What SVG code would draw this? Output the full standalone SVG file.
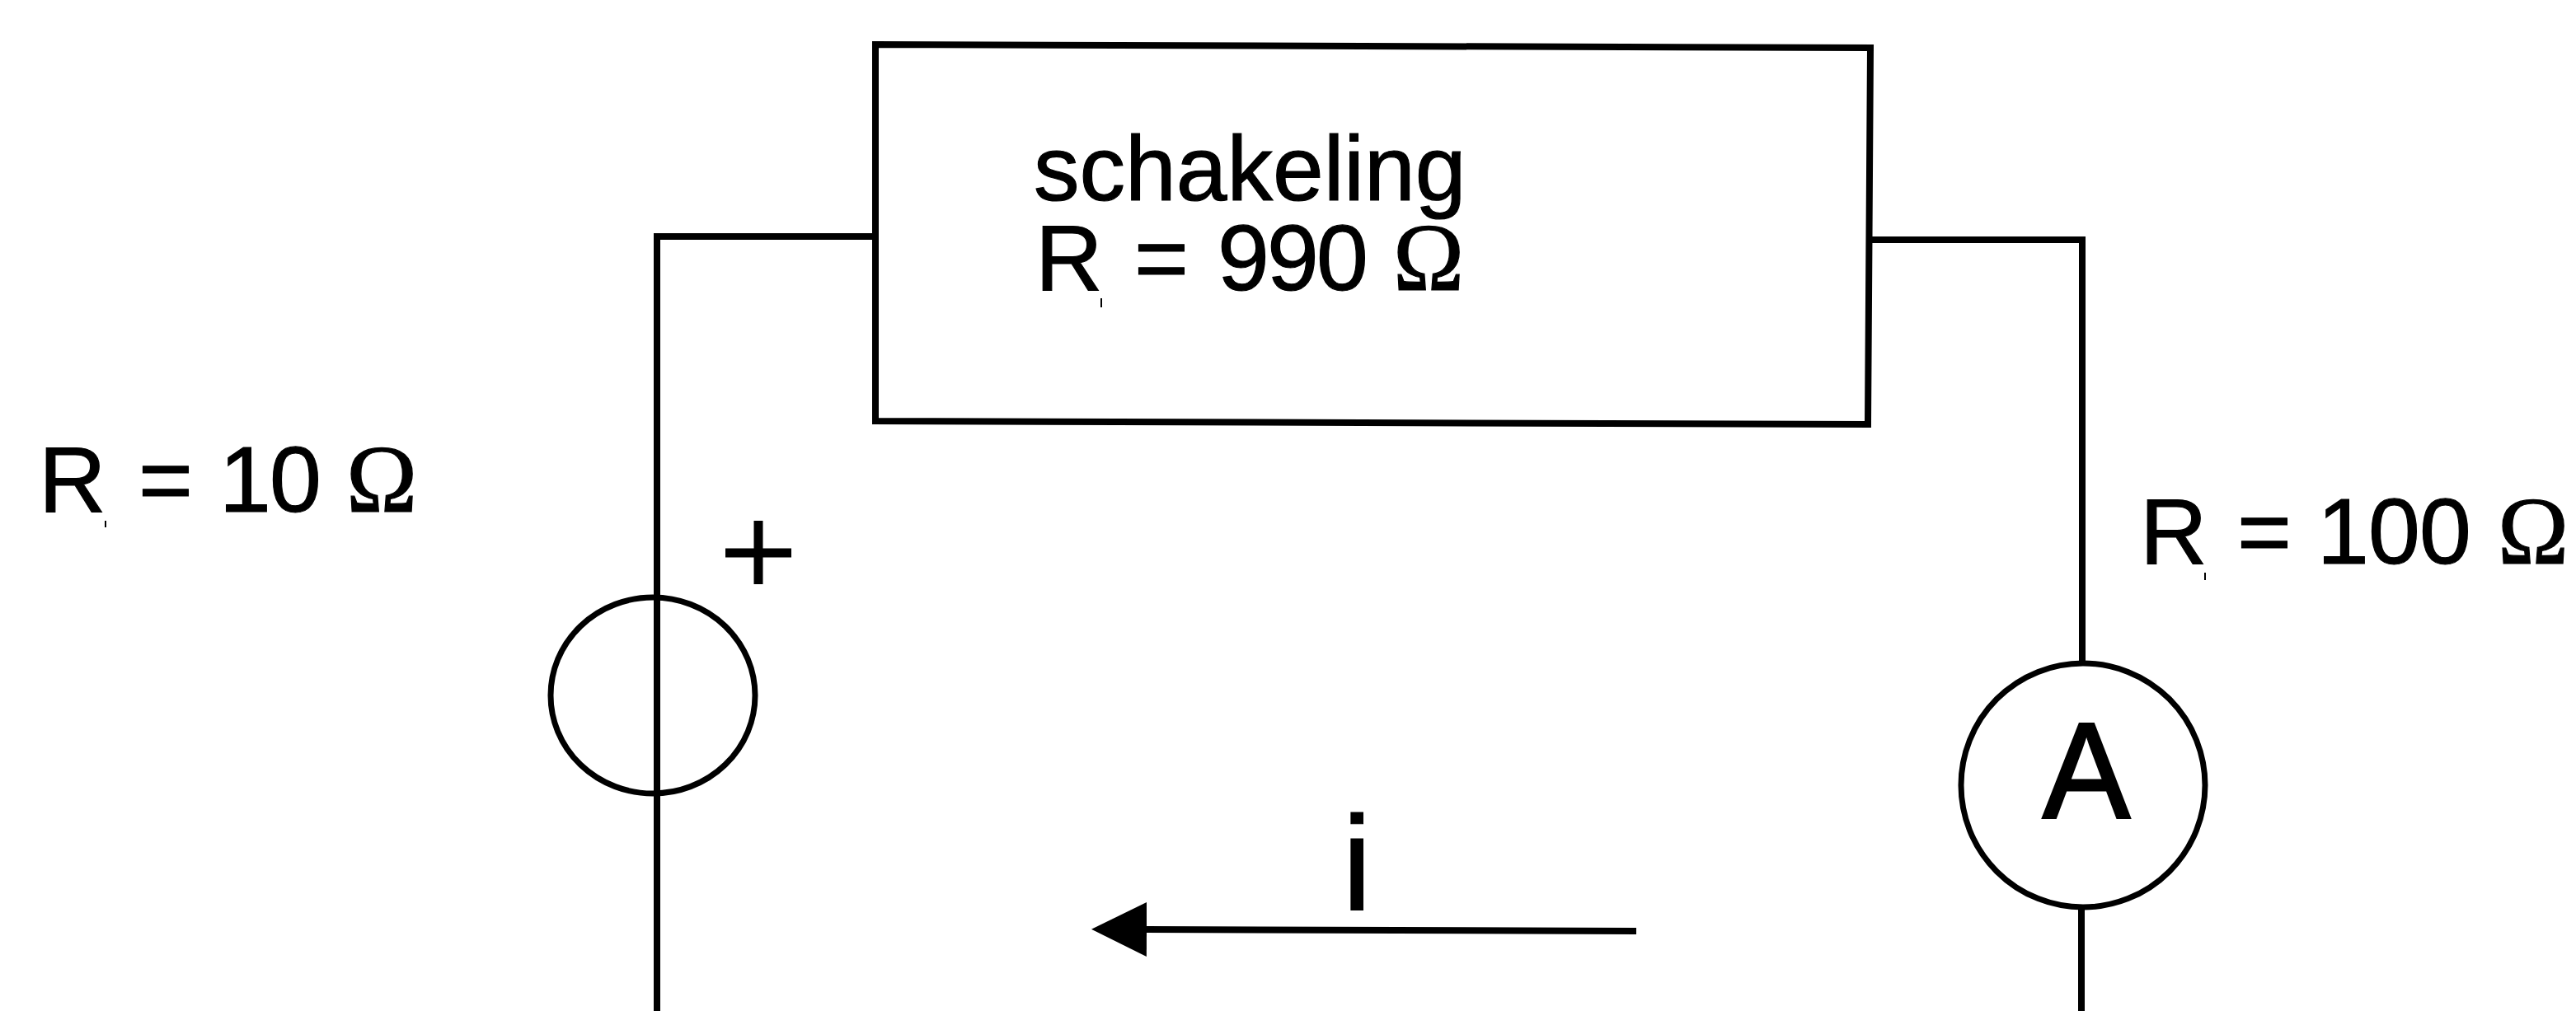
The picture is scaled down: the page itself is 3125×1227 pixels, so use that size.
<svg xmlns="http://www.w3.org/2000/svg" width="3125" height="1227" viewBox="0 0 3125 1227">
<style>
.w{fill:none;stroke:#000;stroke-width:8}
.c{fill:none;stroke:#000;stroke-width:7}
.t{font-family:"Liberation Sans",Arial,sans-serif;font-size:113px;fill:#000;stroke:#000;stroke-width:1.2}
.o{font-family:"Liberation Serif","Times New Roman",serif;font-size:116px}
.k{fill:none;stroke:#000;stroke-width:2}
</style>
<defs>
<marker id="head" markerUnits="userSpaceOnUse" markerWidth="70" markerHeight="66" refX="1" refY="33" orient="auto"><path d="M0 0L67 33L0 66Z" fill="#000"/></marker>
</defs>
<rect width="3125" height="1227" fill="#fff"/>
<g id="connectors">
<path class="w" d="M1062 287H797V1227"/>
<path class="w" d="M2269 291H2526V805"/>
<path class="w" d="M2525 1101V1227"/>
<path class="w" d="M1985 1130L1390 1128" marker-end="url(#head)"/>
</g>
<g id="schakeling">
<path d="M1062 54L2269 58L2266 515L1062 511Z" fill="none" stroke="#000" stroke-width="8"/>
<text class="t"><tspan x="1254" y="243" style="font-size:111px">schakeling</tspan><tspan x="1256" y="352">R</tspan><tspan x="1376" y="352">=</tspan><tspan x="1477 1537 1597" y="352">990</tspan><tspan class="o" x="1690" y="352">Ω</tspan></text>
<path class="k" d="M1336 362V373"/>
</g>
<g id="source">
<ellipse class="c" cx="792" cy="844" rx="124" ry="119"/>
<text class="t" y="621"><tspan x="47">R</tspan><tspan x="168">=</tspan><tspan x="266 327">10</tspan><tspan class="o" x="420">Ω</tspan></text>
<path class="k" d="M128 632V640"/>
<path d="M880 671H960M920 632V709" fill="none" stroke="#000" stroke-width="11"/>
</g>
<g id="ammeter">
<ellipse class="c" cx="2527" cy="953" rx="148" ry="148"/>
<text class="t" x="2478" y="992" textLength="106" lengthAdjust="spacingAndGlyphs" style="font-size:165px;stroke-width:3">A</text>
<text class="t" y="684"><tspan x="2596">R</tspan><tspan x="2714">=</tspan><tspan x="2811 2873 2935">100</tspan><tspan class="o" x="3030">Ω</tspan></text>
<path class="k" d="M2675 695V704"/>
</g>
<g id="current">
<text class="t" x="1628" y="1104" style="font-size:164px">i</text>
</g>
</svg>
